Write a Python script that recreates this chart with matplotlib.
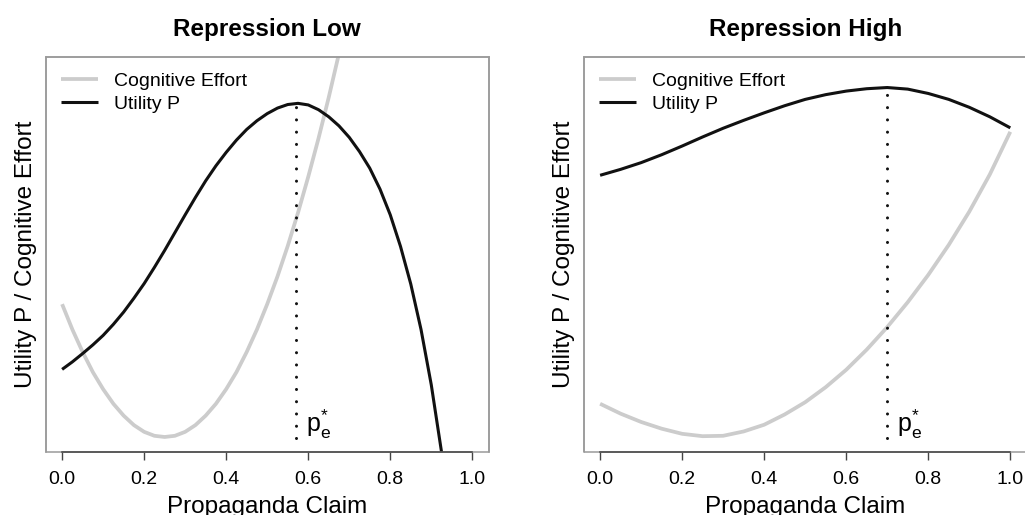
import matplotlib
matplotlib.use("Agg")
import matplotlib.pyplot as plt
from matplotlib.patches import Rectangle

plt.rcParams['font.family'] = ['Liberation Sans', 'DejaVu Sans']
plt.rcParams['mathtext.fontset'] = 'custom'
plt.rcParams['mathtext.rm'] = 'Liberation Sans'
plt.rcParams['mathtext.it'] = 'Liberation Sans'

# values (arbitrary utility units, axis has no y ticks)

# repression low, claim grid 0.025
claim_low = [0.0, 0.025, 0.05, 0.075, 0.1, 0.125, 0.15, 0.175, 0.2, 0.225,
             0.25, 0.275, 0.3, 0.325, 0.35, 0.375, 0.4, 0.425, 0.45, 0.475,
             0.5, 0.525, 0.55, 0.575, 0.6, 0.625, 0.65, 0.675, 0.7, 0.725,
             0.75, 0.775, 0.8, 0.825, 0.85, 0.875, 0.9, 0.925, 0.95]
effort_low = [37.4, 31.0, 25.3, 20.2, 15.9, 12.2, 9.2, 6.8, 5.1, 4.1,
              3.8, 4.1, 5.1, 6.8, 9.2, 12.2, 15.9, 20.2, 25.3, 31.0,
              37.4, 44.4, 52.1, 60.5, 69.6, 79.3, 89.7, 100.8, 112.5, 125.0]
utility_low = [20.9, 22.8, 24.9, 27.1, 29.5, 32.3, 35.4, 38.9, 42.6, 46.7,
               51.0, 55.5, 60.0, 64.4, 68.6, 72.4, 75.8, 78.9, 81.6, 83.8,
               85.6, 87.0, 87.9, 88.2, 87.8, 86.6, 84.8, 82.5, 79.6, 76.0,
               71.8, 66.5, 60.0, 52.0, 42.5, 31.0, 17.0, 0.0, -20.5]
pstar_low = 0.57
ustar_low = 88.2

# repression high, claim grid 0.05
claim_high = [0.0, 0.05, 0.1, 0.15, 0.2, 0.25, 0.3, 0.35, 0.4, 0.45, 0.5,
              0.55, 0.6, 0.65, 0.7, 0.75, 0.8, 0.85, 0.9, 0.95, 1.0]
effort_high = [12.2, 9.7, 7.6, 5.9, 4.6, 4.0, 4.1, 5.2, 6.9, 9.5, 12.6,
               16.4, 20.8, 25.9, 31.6, 37.9, 44.8, 52.4, 60.8, 70.2, 81.0]
utility_high = [70.0, 71.5, 73.2, 75.2, 77.4, 79.7, 81.9, 83.9, 85.8, 87.6, 89.2,
                90.4, 91.3, 91.9, 92.2, 91.8, 90.7, 89.2, 87.2, 84.8, 82.0]
pstar_high = 0.70
ustar_high = 92.2

titles = ["Repression Low", "Repression High"]
xticks = [0.0, 0.2, 0.4, 0.6, 0.8, 1.0]
xticklabels = ["0.0", "0.2", "0.4", "0.6", "0.8", "1.0"]

panels = [
    (claim_low, effort_low, utility_low, pstar_low, ustar_low),
    (claim_high, effort_high, utility_high, pstar_high, ustar_high),
]

W, H = 1025, 515
fig = plt.figure(figsize=(W / 100, H / 100), dpi=100)

lefts = [45.7, 583.7]
ax_w, ax_top, ax_bot = 443.0, 56.7, 452.0

box_col = "#9a9a9a"
axis_col = "#444444"

for i, (xs, eff, util, ps, us) in enumerate(panels):
    ax = fig.add_axes([lefts[i] / W, (H - ax_bot) / H, ax_w / W, (ax_bot - ax_top) / H])
    ax.set_xlim(-0.04, 1.04)
    ax.set_ylim(0, 100)

    ax.plot(xs[:len(eff)], eff, color="#cccccc", lw=2.7, solid_capstyle="butt",
            solid_joinstyle="round", label="Cognitive Effort")
    ax.plot(xs[:len(util)], util, color="#111111", lw=2.2, solid_capstyle="butt",
            solid_joinstyle="round", label="Utility P")
    ax.plot([ps, ps], [3.6, us], color="#111111", lw=2.2,
            linestyle=(0, (0.01, 4.0)), dash_capstyle="round")
    ax.text(ps + 0.024, 5.0, r"$\mathrm{p}_{\mathrm{e}}^{*}$", fontsize=18,
            ha="left", va="baseline")

    # gray box like R's box(), darker axis line only over the tick range
    for s in ["top", "left", "right"]:
        ax.spines[s].set_color(box_col)
        ax.spines[s].set_linewidth(1.1)
    ax.add_patch(Rectangle((0, 0), 1, 1, transform=ax.transAxes, fill=False,
                           edgecolor=box_col, lw=1.1, clip_on=False, zorder=2))
    ax.spines["bottom"].set_bounds(0, 1)
    ax.spines["bottom"].set_color(axis_col)
    ax.spines["bottom"].set_linewidth(1.1)
    ax.spines["bottom"].set_zorder(3)

    ax.set_xticks(xticks)
    ax.set_xticklabels(xticklabels)
    ax.tick_params(axis="x", direction="out", length=5.5, width=1.0, color=axis_col,
                   labelsize=14, pad=8)
    ax.set_yticks([])

    ax.set_xlabel("Propaganda Claim", fontsize=17.5, labelpad=6)
    ax.set_ylabel("Utility P / Cognitive Effort", fontsize=17.5, labelpad=6)
    ax.set_title(titles[i], fontsize=17.5, fontweight="bold", pad=15)

    ax.legend(loc="upper left", frameon=False, fontsize=14, handlelength=1.9,
              handletextpad=0.8, labelspacing=0.28, borderaxespad=0.3,
              borderpad=0.5)

fig.savefig("out.png", dpi=100)
